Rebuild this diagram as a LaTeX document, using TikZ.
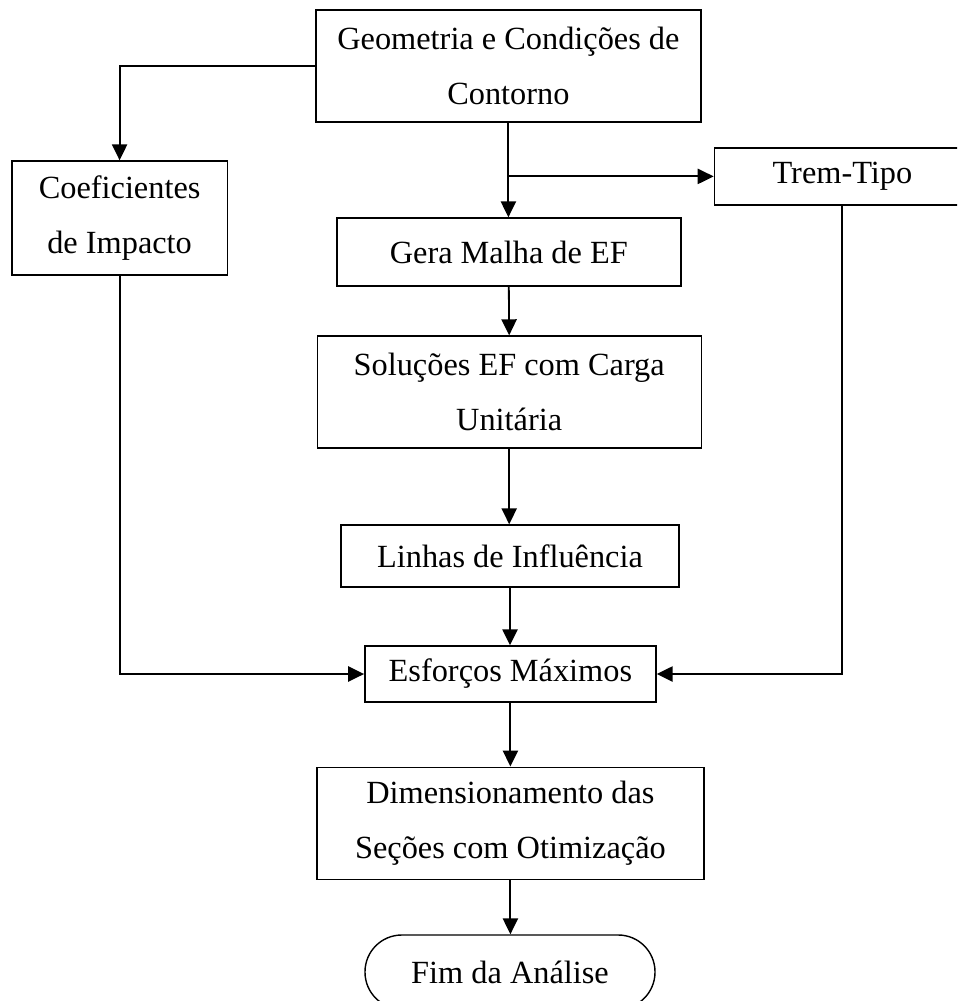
\documentclass[tikz,border=0pt]{standalone}
\usepackage{fontspec}
\setmainfont{Liberation Serif}
\usetikzlibrary{arrows.meta}

\begin{document}
\begin{tikzpicture}[
    caixa/.style={draw, line width=1pt, align=center, inner sep=0pt,
        font=\fontsize{23}{39}\selectfont},%retângulos
    termino/.style={caixa, rounded corners=0.92cm},%fim
    seta/.style={line width=1.3pt, -{Triangle[length=4mm,width=3.8mm]}}%setas
]
                \useasboundingbox (0,0) rectangle (23.925,-25.025);%margens
                \clip (0,0) rectangle (23.925,-25.025);
                \node[caixa, minimum width=9.63cm, minimum height=2.8cm] (geom) at (12.71,-1.65) {Geometria e Condições de\\Contorno};
                \node[caixa, minimum width=5.38cm, minimum height=2.85cm] (coef) at (2.99,-5.45) {Coeficientes\\de Impacto};
                \node[caixa, minimum width=6.4cm, minimum height=1.43cm] (trem) at (21.06,-4.41) {Trem-Tipo};
                \node[caixa, minimum width=8.6cm, minimum height=1.7cm] (gera) at (12.72,-6.3) {Gera Malha de EF};
                \node[caixa, minimum width=9.6cm, minimum height=2.8cm] (sol) at (12.73,-9.8) {Soluções EF com Carga\\Unitária};
                \node[caixa, minimum width=8.45cm, minimum height=1.55cm] (linhas) at (12.75,-13.9) {Linhas de Influência};
                \node[caixa, minimum width=7.28cm, minimum height=1.4cm] (esf) at (12.76,-16.85) {Esforços Máximos};
                \node[caixa, minimum width=9.68cm, minimum height=2.8cm] (dim) at (12.76,-20.58) {Dimensionamento das\\Seções com Otimização};
                \node[termino, minimum width=7.25cm, minimum height=1.85cm] (fim) at (12.75,-24.3) {Fim da Análise};
                \coordinate (ramo) at (geom.south |- trem.west);%derivação
                \draw[seta] (geom.west) -| (coef.north);
                \draw[seta] (geom.south) -- (geom.south |- gera.north);
                \draw[seta] (ramo) -- (trem.west);
                \draw[seta] (gera.south) -- (sol.north);
                \draw[seta] (sol.south) -- (sol.south |- linhas.north);
                \draw[seta] (linhas.south) -- (linhas.south |- esf.north);
                \draw[seta] (coef.south) |- (esf.west);
                \draw[seta] (trem.south) |- (esf.east);
                \draw[seta] (esf.south) -- (esf.south |- dim.north);
                \draw[seta] (dim.south) -- (dim.south |- fim.north);
            \end{tikzpicture}
\end{document}
